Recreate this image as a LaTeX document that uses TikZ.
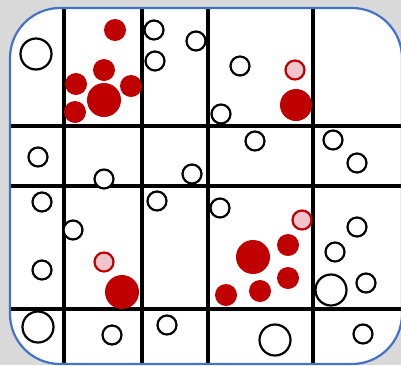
\documentclass[tikz,border=0pt]{standalone}
\definecolor{bgray}{HTML}{D9D9D9}
\definecolor{frameblue}{HTML}{4472C4}
\definecolor{dotred}{HTML}{C00000}
\definecolor{dotpink}{HTML}{F0C4CC}
\begin{document}
\begin{tikzpicture}[x=1pt,y=-1pt,
	grid/.style={line width=3.5pt,black},
	empty/.style={draw=black,line width=2.2pt,fill=white},
	full/.style={fill=dotred},
	pale/.style={draw=dotred,line width=2.2pt,fill=dotpink}]
	\useasboundingbox (0,0) rectangle (401,365);
	\clip (0,0) rectangle (401,365);
	\fill[bgray] (0,0) rectangle (401,365);
	\fill[white,rounded corners=50pt] (10,8) rectangle (402,364);
	% grid
	\foreach \gx in {64,142,208,313}
		\draw[grid] (\gx,8) -- (\gx,364);
	\foreach \gy in {126,186,309}
		\draw[grid] (10,\gy) -- (402,\gy);
	\draw[frameblue,line width=2.2pt,rounded corners=50pt] (10,8) rectangle (402,364);
	% open circles
	\foreach \cx/\cy/\cr in {36/54/15.5,154/30/9.5,155/61/9.5,196/41/9.5,240/66/9.5,221/114/9.5,
		38/157/9.5,104/179/9.5,192/174/9.5,255/141/9.5,333/140/9.5,357/163/9.5,
		42/202/9.5,73/230/9.5,157/201/9.5,42/270/9.5,38/327/15.5,112/335/9.5,167/325/9.5,
		220/208/9.5,357/227/9.5,335/252/9.5,331/290/15.5,366/283/9.5,275/340/15.5,363/334/9.5}
		\draw[empty] (\cx,\cy) circle (\cr);
	% red dots
	\foreach \cx/\cy/\cr in {115/30/11,104/70/11,76/84/11,131/86/11,75/112/11,104/100/17,
		296/105/16,122/292/17,
		253/257/17,288/245/11,288/278/11,260/291/11,226/295/11}
		\fill[full] (\cx,\cy) circle (\cr);
	% pale dots
	\foreach \cx/\cy in {295/70,104/262,302/220}
		\draw[pale] (\cx,\cy) circle (9.5);
\end{tikzpicture}
\end{document}
